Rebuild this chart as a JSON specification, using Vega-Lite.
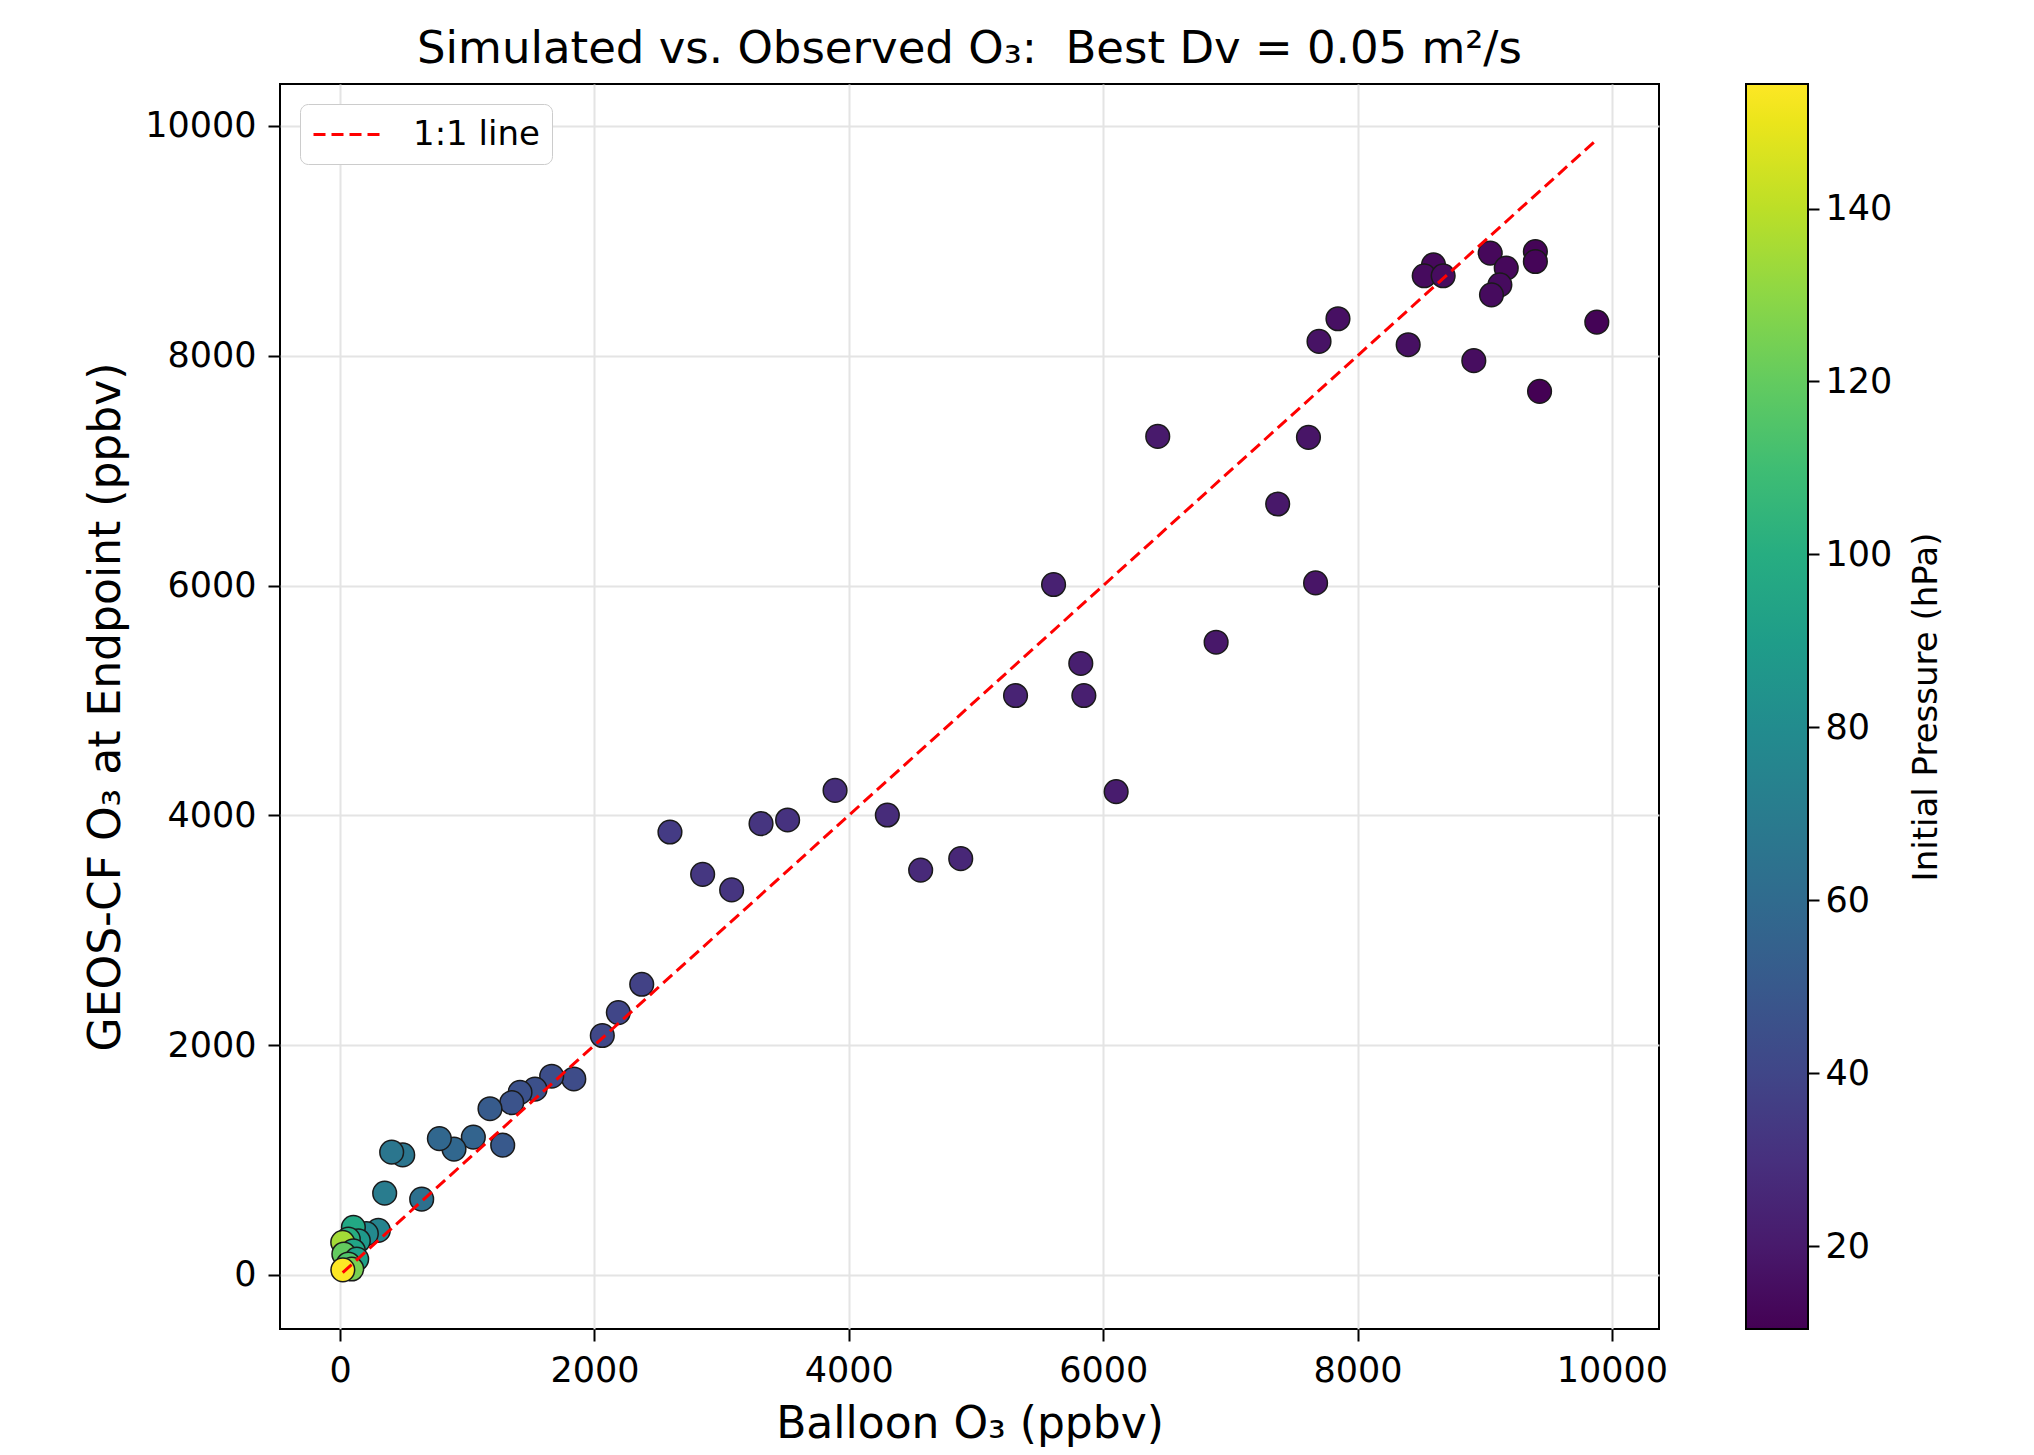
{
  "$schema": "https://vega.github.io/schema/vega-lite/v6.json",
  "autosize": {"type": "none"},
  "width": 1379,
  "height": 1245,
  "padding": {"left": 280, "top": 84, "right": 375, "bottom": 126},
  "config": {
    "font": "DejaVu Sans",
    "view": {"stroke": "black", "strokeWidth": 2},
    "axis": {
      "labelFont": "DejaVu Sans", "labelFontSize": 35, "labelColor": "black",
      "titleFont": "DejaVu Sans", "titleFontSize": 44, "titleFontWeight": "normal", "titleColor": "black",
      "tickColor": "black", "tickSize": 12, "tickWidth": 2,
      "domain": false,
      "grid": true, "gridColor": "#e4e4e4", "gridWidth": 2,
      "labelPadding": 12, "format": "d"
    },
    "legend": {"labelFont": "DejaVu Sans", "titleFont": "DejaVu Sans", "labelColor": "black", "titleColor": "black"}
  },
  "title": {
    "text": "Simulated vs. Observed O₃:\u00a0 Best Dv = 0.05 m²/s",
    "fontSize": 45, "fontWeight": "normal", "color": "black", "font": "DejaVu Sans",
    "offset": 9, "anchor": "middle"
  },
  "datasets": {
    "points": [
      {"balloon": 9881, "geos": 8293, "pressure": 11},
      {"balloon": 9431, "geos": 7690, "pressure": 10.4},
      {"balloon": 9398, "geos": 8907, "pressure": 11.5},
      {"balloon": 9398, "geos": 8820, "pressure": 12},
      {"balloon": 9043, "geos": 8893, "pressure": 13},
      {"balloon": 9169, "geos": 8763, "pressure": 13},
      {"balloon": 9119, "geos": 8617, "pressure": 14},
      {"balloon": 9053, "geos": 8530, "pressure": 14},
      {"balloon": 8914, "geos": 7957, "pressure": 15},
      {"balloon": 8597, "geos": 8791, "pressure": 13.5},
      {"balloon": 8524, "geos": 8696, "pressure": 14},
      {"balloon": 8673, "geos": 8696, "pressure": 14.5},
      {"balloon": 8398, "geos": 8096, "pressure": 16},
      {"balloon": 7846, "geos": 8322, "pressure": 16},
      {"balloon": 7697, "geos": 8125, "pressure": 17},
      {"balloon": 7614, "geos": 7290, "pressure": 18},
      {"balloon": 7372, "geos": 6710, "pressure": 19},
      {"balloon": 7670, "geos": 6023, "pressure": 18},
      {"balloon": 6888, "geos": 5507, "pressure": 19},
      {"balloon": 6429, "geos": 7298, "pressure": 20},
      {"balloon": 5610, "geos": 6009, "pressure": 23},
      {"balloon": 5824, "geos": 5322, "pressure": 22},
      {"balloon": 5848, "geos": 5043, "pressure": 22},
      {"balloon": 5311, "geos": 5043, "pressure": 24},
      {"balloon": 6102, "geos": 4206, "pressure": 21},
      {"balloon": 4880, "geos": 3623, "pressure": 26},
      {"balloon": 4565, "geos": 3524, "pressure": 27},
      {"balloon": 4303, "geos": 4003, "pressure": 28},
      {"balloon": 3892, "geos": 4217, "pressure": 29},
      {"balloon": 3519, "geos": 3960, "pressure": 31},
      {"balloon": 3310, "geos": 3928, "pressure": 32},
      {"balloon": 3079, "geos": 3351, "pressure": 32},
      {"balloon": 2851, "geos": 3487, "pressure": 33},
      {"balloon": 2594, "geos": 3855, "pressure": 35},
      {"balloon": 2372, "geos": 2530, "pressure": 38},
      {"balloon": 2188, "geos": 2284, "pressure": 40},
      {"balloon": 2062, "geos": 2084, "pressure": 41},
      {"balloon": 1838, "geos": 1706, "pressure": 43},
      {"balloon": 1664, "geos": 1730, "pressure": 44},
      {"balloon": 1533, "geos": 1617, "pressure": 45},
      {"balloon": 1415, "geos": 1589, "pressure": 46},
      {"balloon": 1350, "geos": 1500, "pressure": 47},
      {"balloon": 1179, "geos": 1447, "pressure": 51},
      {"balloon": 1279, "geos": 1130, "pressure": 50},
      {"balloon": 1048, "geos": 1200, "pressure": 56},
      {"balloon": 896, "geos": 1096, "pressure": 58},
      {"balloon": 781, "geos": 1187, "pressure": 58},
      {"balloon": 493, "geos": 1045, "pressure": 66},
      {"balloon": 406, "geos": 1069, "pressure": 67},
      {"balloon": 351, "geos": 712, "pressure": 70},
      {"balloon": 642, "geos": 660, "pressure": 63},
      {"balloon": 301, "geos": 388, "pressure": 75},
      {"balloon": 207, "geos": 360, "pressure": 78},
      {"balloon": 105, "geos": 415, "pressure": 97},
      {"balloon": 144, "geos": 298, "pressure": 88},
      {"balloon": 65, "geos": 313, "pressure": 100},
      {"balloon": 21, "geos": 284, "pressure": 135},
      {"balloon": 105, "geos": 211, "pressure": 95},
      {"balloon": 30, "geos": 183, "pressure": 120},
      {"balloon": 131, "geos": 139, "pressure": 92},
      {"balloon": 65, "geos": 96, "pressure": 115},
      {"balloon": 92, "geos": 52, "pressure": 125},
      {"balloon": 22, "geos": 45, "pressure": 154.4}
    ],
    "oneone": [
      {"balloon": 21, "geos": 21, "label": "1:1 line"},
      {"balloon": 9877, "geos": 9877, "label": "1:1 line"}
    ]
  },
  "resolve": {"scale": {"y": "independent"}, "axis": {"y": "independent"}},
  "layer": [
    {
      "data": {"name": "points"},
      "mark": {"type": "point", "shape": "circle", "filled": true, "size": 560, "stroke": "#1a1a1a", "strokeWidth": 1.5, "opacity": 1},
      "encoding": {
        "x": {"field": "balloon", "type": "quantitative",
              "scale": {"domain": [-472, 10370], "nice": false, "zero": false},
              "axis": {"values": [0, 2000, 4000, 6000, 8000, 10000], "title": "Balloon O₃ (ppbv)", "titlePadding": 14}},
        "y": {"field": "geos", "type": "quantitative",
              "scale": {"domain": [-470, 10365], "nice": false, "zero": false},
              "axis": {"orient": "left", "values": [0, 2000, 4000, 6000, 8000, 10000], "title": "GEOS-CF O₃ at Endpoint (ppbv)", "titlePadding": 16}},
        "color": {"field": "pressure", "type": "quantitative",
                  "scale": {"scheme": "viridis", "domain": [10.4, 154.4], "nice": false, "zero": false},
                  "legend": {
                    "orient": "none", "legendX": 1466, "legendY": 0, "direction": "vertical",
                    "gradientLength": 1245, "gradientThickness": 62,
                    "gradientStrokeColor": "black", "gradientStrokeWidth": 2,
                    "values": [20, 40, 60, 80, 100, 120, 140],
                    "labelExpr": "''", "labelOpacity": 0, "labelFontSize": 1,
                    "title": null, "padding": 0
                  }}
      }
    },
    {
      "data": {"name": "oneone"},
      "mark": {"type": "line", "strokeDash": [12, 6], "strokeWidth": 3},
      "encoding": {
        "x": {"field": "balloon", "type": "quantitative"},
        "y": {"field": "geos", "type": "quantitative",
              "scale": {"domain": [-470, 10365], "nice": false, "zero": false},
              "axis": null},
        "stroke": {"field": "label", "type": "nominal",
                   "scale": {"range": ["red"]},
                   "legend": {
                     "orient": "top-left", "offset": 20, "title": null,
                     "symbolType": "M-1,0H3", "symbolDash": [12, 6], "symbolStrokeWidth": 3, "symbolSize": 1156,
                     "symbolFillColor": "transparent",
                     "labelFontSize": 34, "labelOffset": 64,
                     "padding": 12, "strokeColor": "#cccccc", "cornerRadius": 8, "fillColor": "white"
                   }}
      }
    },
    {
      "data": {"name": "points"},
      "mark": {"type": "point", "opacity": 0},
      "encoding": {
        "x": {"field": "balloon", "type": "quantitative"},
        "y": {"field": "pressure", "type": "quantitative",
              "scale": {"domain": [10.4, 154.4], "nice": false, "zero": false},
              "axis": {"orient": "right", "offset": 149, "values": [20, 40, 60, 80, 100, 120, 140],
                       "grid": false, "tickSize": 11, "tickWidth": 2, "labelPadding": 6, "labelFontSize": 35,
                       "title": "Initial Pressure (hPa)", "titleAngle": 270, "titleBaseline": "top",
                       "titleFontSize": 34, "titlePadding": 18}}
      }
    }
  ]
}
